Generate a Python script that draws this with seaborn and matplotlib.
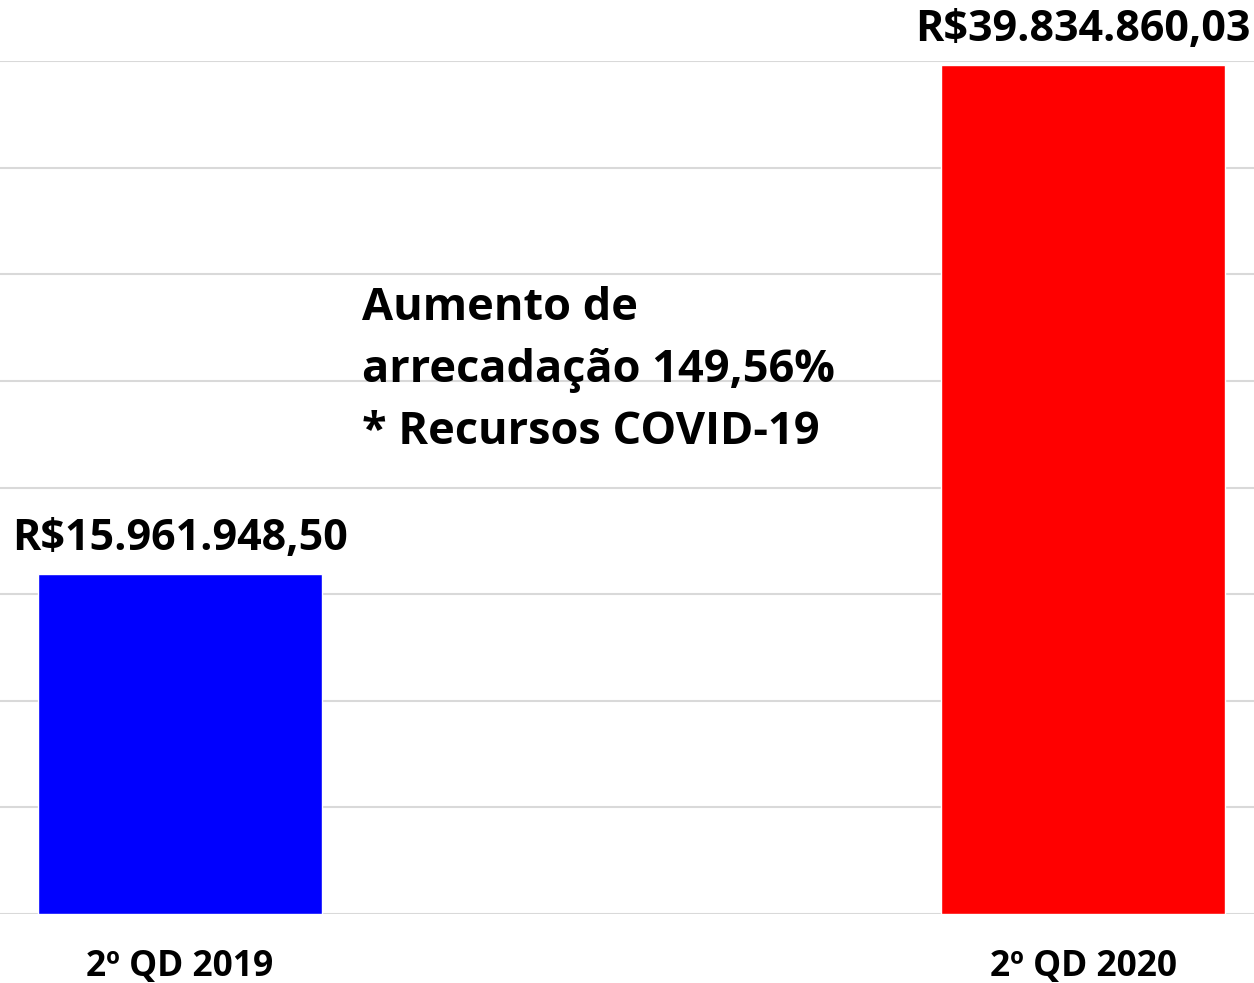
import pandas as pd
import matplotlib.pyplot as plt
import seaborn as sns

# Values
periods = ["2º QD 2019", "2º QD 2020"]
values = [15961948.50, 39834860.03]
value_labels = ["R$15.961.948,50", "R$39.834.860,03"]
bar_colors = ["#0000ff", "#ff0000"]
note = "Aumento de\narrecadação 149,56%\n* Recursos COVID-19"

df = pd.DataFrame({"periodo": periods, "valor": values})

sns.set_theme(style="whitegrid")
plt.rcParams['font.family'] = ['Open Sans', 'DejaVu Sans']

fig = plt.figure(figsize=(12.54, 9.83), dpi=100)
ax = fig.add_axes([0.0, 69 / 983, 1.0, 853 / 983])

sns.barplot(data=df, x="periodo", y="valor", hue="periodo",
            palette=bar_colors, width=0.3145, saturation=1,
            legend=False, ax=ax)

ax.set_xlim(-0.1993, 1.189)
ax.set_ylim(0, 40e6)
ax.set_yticks(range(0, 40000001, 5000000))
ax.set_yticklabels([])
ax.tick_params(axis="y", length=0)
ax.grid(axis="y", color="#d9d9d9", linewidth=1.5)
ax.grid(axis="x", visible=False)
for s in ax.spines.values():
    s.set_visible(False)

ax.set_xlabel("")
ax.set_ylabel("")
ax.tick_params(axis="x", length=0, pad=25)
for t in ax.get_xticklabels():
    t.set_fontsize(25.5)
    t.set_fontweight("bold")
    t.set_color("black")

pads = [10, 10]
for cont, lab, p in zip(ax.containers, value_labels, pads):
    ax.bar_label(cont, labels=[lab], padding=p, fontsize=31,
                 fontweight="bold", color="black", clip_on=False)

ax.text(0.2887, 0.736, note, transform=ax.transAxes, ha="left", va="top",
        fontsize=32.5, fontweight="bold", color="black", linespacing=1.5)

plt.savefig("out.png", dpi=100)
